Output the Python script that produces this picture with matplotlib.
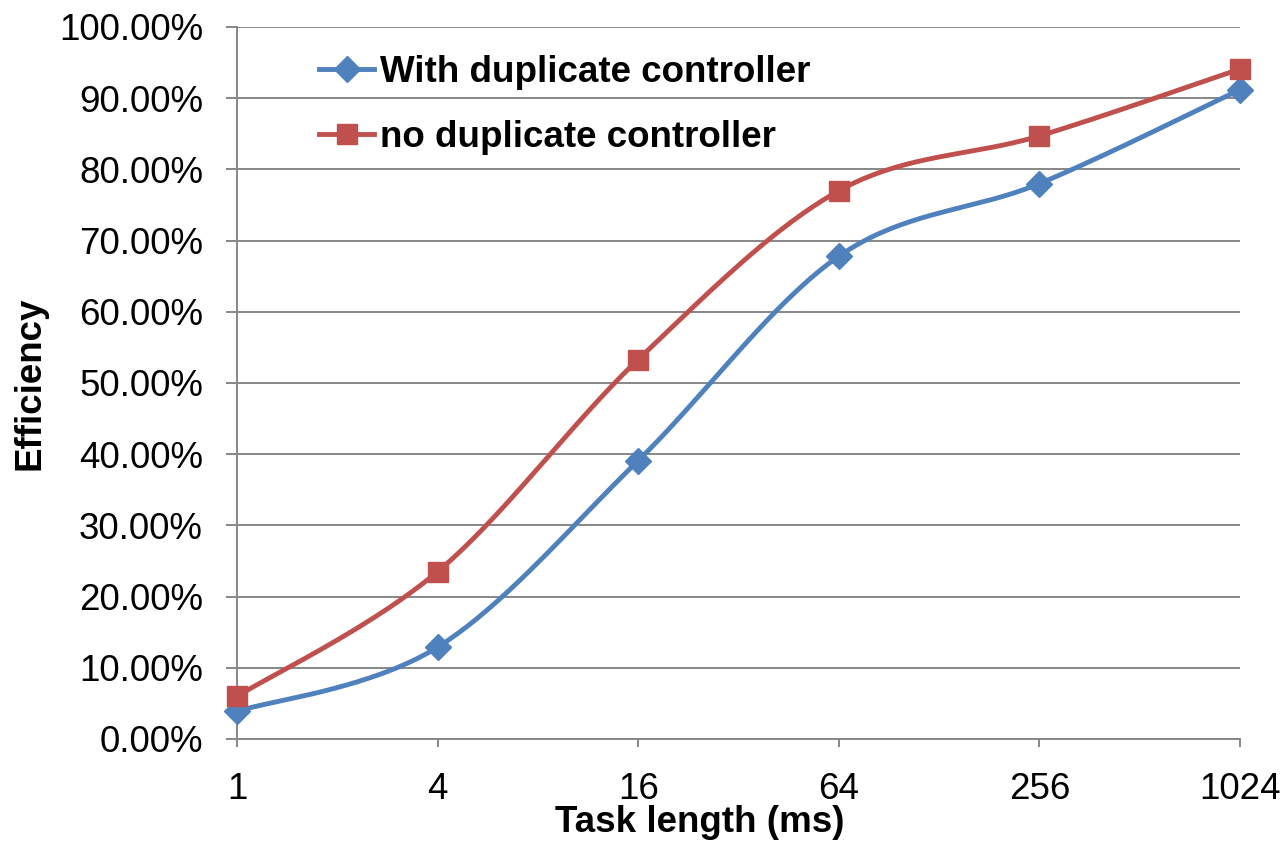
import numpy as np
import matplotlib
matplotlib.use("Agg")
import matplotlib.pyplot as plt
from matplotlib.lines import Line2D
from matplotlib.ticker import FuncFormatter, MultipleLocator

categories = ["1", "4", "16", "64", "256", "1024"]
with_dup = [0.039, 0.129, 0.391, 0.678, 0.780, 0.912]
no_dup = [0.060, 0.235, 0.533, 0.770, 0.847, 0.941]
series_names = ["With duplicate controller", "no duplicate controller"]

BLUE = "#4F81BD"
RED = "#C0504D"
GRID = "#878787"

plt.rcParams['font.family'] = ['Liberation Sans', 'DejaVu Sans']

def smooth(xs, ys, n=40, t=1/6):
    xs = np.asarray(xs, float); ys = np.asarray(ys, float)
    P = np.column_stack([xs, ys])
    out = [P[0]]
    m = len(P)
    for i in range(m - 1):
        p0 = P[i - 1] if i > 0 else P[i]
        p1 = P[i]; p2 = P[i + 1]
        p3 = P[i + 2] if i + 2 < m else P[i + 1]
        c1 = p1 + (p2 - p0) * t
        c2 = p2 - (p3 - p1) * t
        s = np.linspace(0, 1, n)[1:, None]
        seg = ((1 - s) ** 3) * p1 + 3 * ((1 - s) ** 2) * s * c1 + 3 * (1 - s) * s ** 2 * c2 + s ** 3 * p2
        out.extend(seg)
    out = np.array(out)
    return out[:, 0], out[:, 1]

fig = plt.figure(figsize=(12.85, 8.42), dpi=100)
ax = fig.add_axes([237 / 1285, (842 - 739) / 842, (1240 - 237) / 1285, (739 - 27) / 842])

LW = 3.5
x = np.arange(len(categories))
for vals, col, mk, ms in [(with_dup, BLUE, 'D', 13), (no_dup, RED, 's', 14.5)]:
    sx, sy = smooth(x, vals)
    ax.plot(sx, sy, color=col, lw=LW, solid_capstyle='round', zorder=3, clip_on=False)
    ax.plot(x, vals, linestyle='none', marker=mk, markersize=ms, color=col, zorder=4, clip_on=False)

ax.set_xlim(0, len(categories) - 1)
ax.set_ylim(0, 1.0)
ax.yaxis.set_major_locator(MultipleLocator(0.1))
ax.yaxis.set_major_formatter(FuncFormatter(lambda v, p: f"{v*100:.2f}%"))
ax.set_xticks(x)
ax.set_xticklabels(categories)

ax.grid(axis='y', color=GRID, lw=1.4, zorder=0)
ax.set_axisbelow(True)
for s in ['top', 'right']:
    ax.spines[s].set_visible(False)
for s in ['left', 'bottom']:
    ax.spines[s].set_color(GRID)
    ax.spines[s].set_linewidth(1.4)
ax.tick_params(axis='y', direction='out', length=8, width=1.4, color=GRID, pad=16.5, labelsize=26.5)
ax.tick_params(axis='x', direction='out', length=6, width=1.4, color=GRID, pad=17.5, labelsize=26.5)

ax.set_xlabel("Task length (ms)", fontsize=26.5, fontweight='bold')
ax.set_ylabel("Efficiency", fontsize=26.5, fontweight='bold')
ax.xaxis.set_label_coords((700 - 237) / 1003, (739 - 822) / 712)
ax.xaxis.label.set_va('center')
ax.yaxis.set_label_coords((30 - 237) / 1003, 0.5)
ax.yaxis.label.set_va('center')

handles = [Line2D([], [], color=BLUE, lw=LW, marker='D', markersize=13),
           Line2D([], [], color=RED, lw=LW, marker='s', markersize=14.5)]
ax.legend(handles, series_names, loc='upper left',
          bbox_to_anchor=((319 - 237) / 1003, (739 - 55) / 712),
          frameon=False, borderpad=0, borderaxespad=0, handlelength=1.5,
          handletextpad=0.15, labelspacing=0.82,
          prop={'size': 26.5, 'weight': 'bold'})

fig.savefig("out.png", dpi=100)
